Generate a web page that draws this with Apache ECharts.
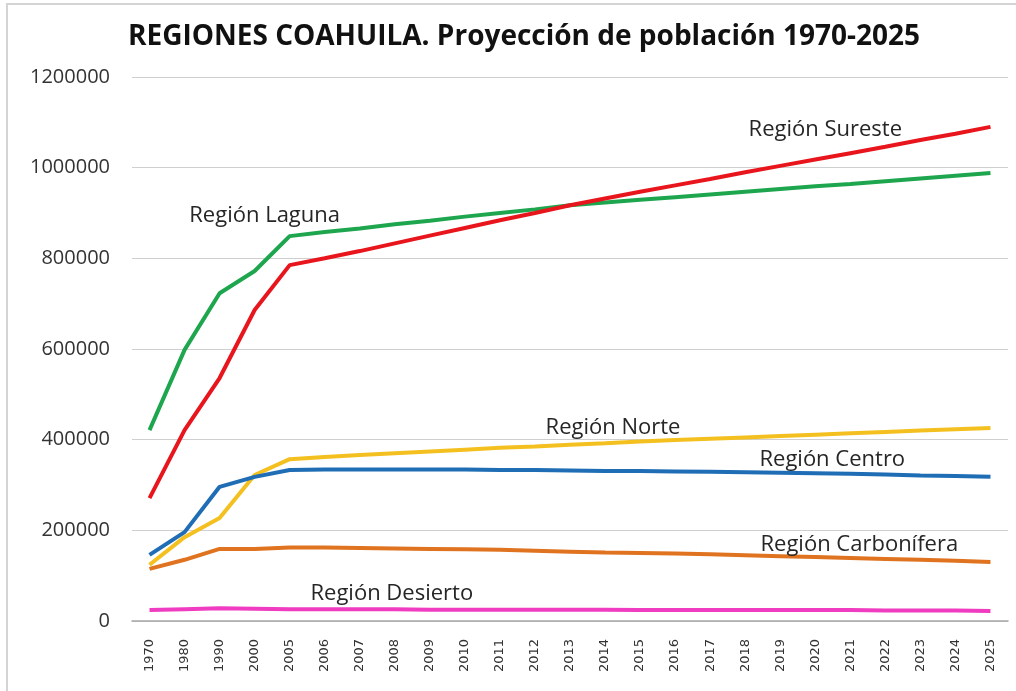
<!DOCTYPE html>
<html>
<head>
<meta charset="utf-8">
<script src="https://cdn.jsdelivr.net/npm/echarts@6/dist/echarts.min.js"></script>
<style>
  html, body { margin: 0; padding: 0; background: #fff; }
  #chart { width: 1016px; height: 691px; }
</style>
</head>
<body>
<div id="chart"></div>
<script>
// categories (years)
var years = ['1970', '1980', '1990', '2000', '2005', '2006', '2007', '2008', '2009', '2010',
  '2011', '2012', '2013', '2014', '2015', '2016', '2017', '2018', '2019', '2020',
  '2021', '2022', '2023', '2024', '2025'];

// series values
var sureste = [271000, 421000, 536000, 686000, 785000, 800000, 816000, 833000, 850000, 867000,
  884000, 900000, 917000, 932000, 947000, 961000, 975000, 990000, 1004000, 1018000,
  1032000, 1046000, 1061000, 1075000, 1090000];
var laguna = [421000, 598000, 723000, 772000, 849000, 858000, 866000, 875000, 883000, 892000,
  900000, 908000, 917000, 923000, 929000, 935000, 941000, 947000, 953000, 959000,
  964000, 970000, 976000, 982000, 988000];
var norte = [124000, 185000, 227000, 322000, 357000, 362000, 366000, 370000, 374000, 378000,
  382000, 385000, 389000, 392000, 396000, 399000, 402000, 405000, 408000, 411000,
  414000, 417000, 420000, 423000, 426000];
var centro = [146000, 196000, 296000, 318000, 333000, 334000, 334000, 334000, 334000, 334000,
  333000, 333000, 332000, 331000, 331000, 330000, 329000, 328000, 327000, 326000,
  325000, 323000, 321000, 320000, 318000];
var carbonifera = [115000, 135000, 159000, 159000, 162000, 162000, 161000, 160000, 159000, 158000,
  157000, 155000, 153000, 151000, 150000, 149000, 147000, 145000, 143000, 141000,
  139000, 137000, 135000, 133000, 130000];
var desierto = [24000, 26000, 28000, 27000, 26000, 26000, 26000, 26000, 25000, 25000,
  25000, 25000, 25000, 25000, 24000, 24000, 24000, 24000, 24000, 24000,
  24000, 23000, 23000, 23000, 22000];

var yTicks = [0, 200000, 400000, 600000, 800000, 1000000, 1200000];

var labelFont = { fontFamily: 'Open Sans', fontSize: 22, color: '#262626' };

function tag(text, year, value, dx) {
  return {
    data: [{ coord: [year, value], value: text }],
    symbol: 'circle', symbolSize: 0,
    label: Object.assign({ show: true, position: 'inside', offset: [dx, 0],
      formatter: function (p) { return p.value; } }, labelFont)
  };
}

function line(name, data, color, lbl) {
  return {
    name: name, type: 'line', data: data, symbol: 'none',
    lineStyle: { color: color, width: 4 }, itemStyle: { color: color },
    markPoint: lbl
  };
}

var chart = echarts.init(document.getElementById('chart'));
chart.setOption({
  backgroundColor: '#fff',
  animation: false,
  title: {
    text: 'REGIONES COAHUILA. Proyección de población 1970-2025',
    left: 123, top: 18,
    textStyle: { fontFamily: 'Open Sans', fontWeight: 'bold', fontSize: 28, color: '#111' }
  },
  grid: { left: 132, right: 8, top: 77, bottom: 70 },
  xAxis: {
    type: 'category', data: years, boundaryGap: true,
    axisLine: { lineStyle: { color: '#a6a6a6', width: 1.5 } },
    axisTick: { show: false },
    axisLabel: { rotate: 90, interval: 0, fontFamily: 'DejaVu Sans', fontSize: 13, color: '#333', margin: 18 }
  },
  yAxis: {
    type: 'value', min: yTicks[0], max: yTicks[yTicks.length - 1], interval: yTicks[1] - yTicks[0],
    axisLine: { show: false }, axisTick: { show: false },
    axisLabel: { fontFamily: 'Open Sans', fontSize: 20, color: '#333', margin: 22,
      formatter: function (v) { return String(v); } },
    splitLine: { lineStyle: { color: '#cfcfcf', width: 1.2 } }
  },
  graphic: [{
    type: 'rect', shape: { x: 7, y: 4, width: 1030, height: 700 },
    style: { fill: 'none', stroke: '#d4d4d4', lineWidth: 2 }, silent: true
  }],
  series: [
    line('Región Laguna', laguna, '#1ea64e', tag('Región Laguna', '2000', 893000, 10)),
    line('Región Sureste', sureste, '#e8151c', tag('Región Sureste', '2020', 1083000, 10)),
    line('Región Norte', norte, '#f4c020', tag('Región Norte', '2014', 426000, 8)),
    line('Región Centro', centro, '#1e6db5', tag('Región Centro', '2020', 355000, 17)),
    line('Región Carbonífera', carbonifera, '#e0731f', tag('Región Carbonífera', '2021', 168000, 9)),
    line('Región Desierto', desierto, '#f03cc0', tag('Región Desierto', '2008', 60000, -3))
  ]
});
</script>
</body>
</html>
